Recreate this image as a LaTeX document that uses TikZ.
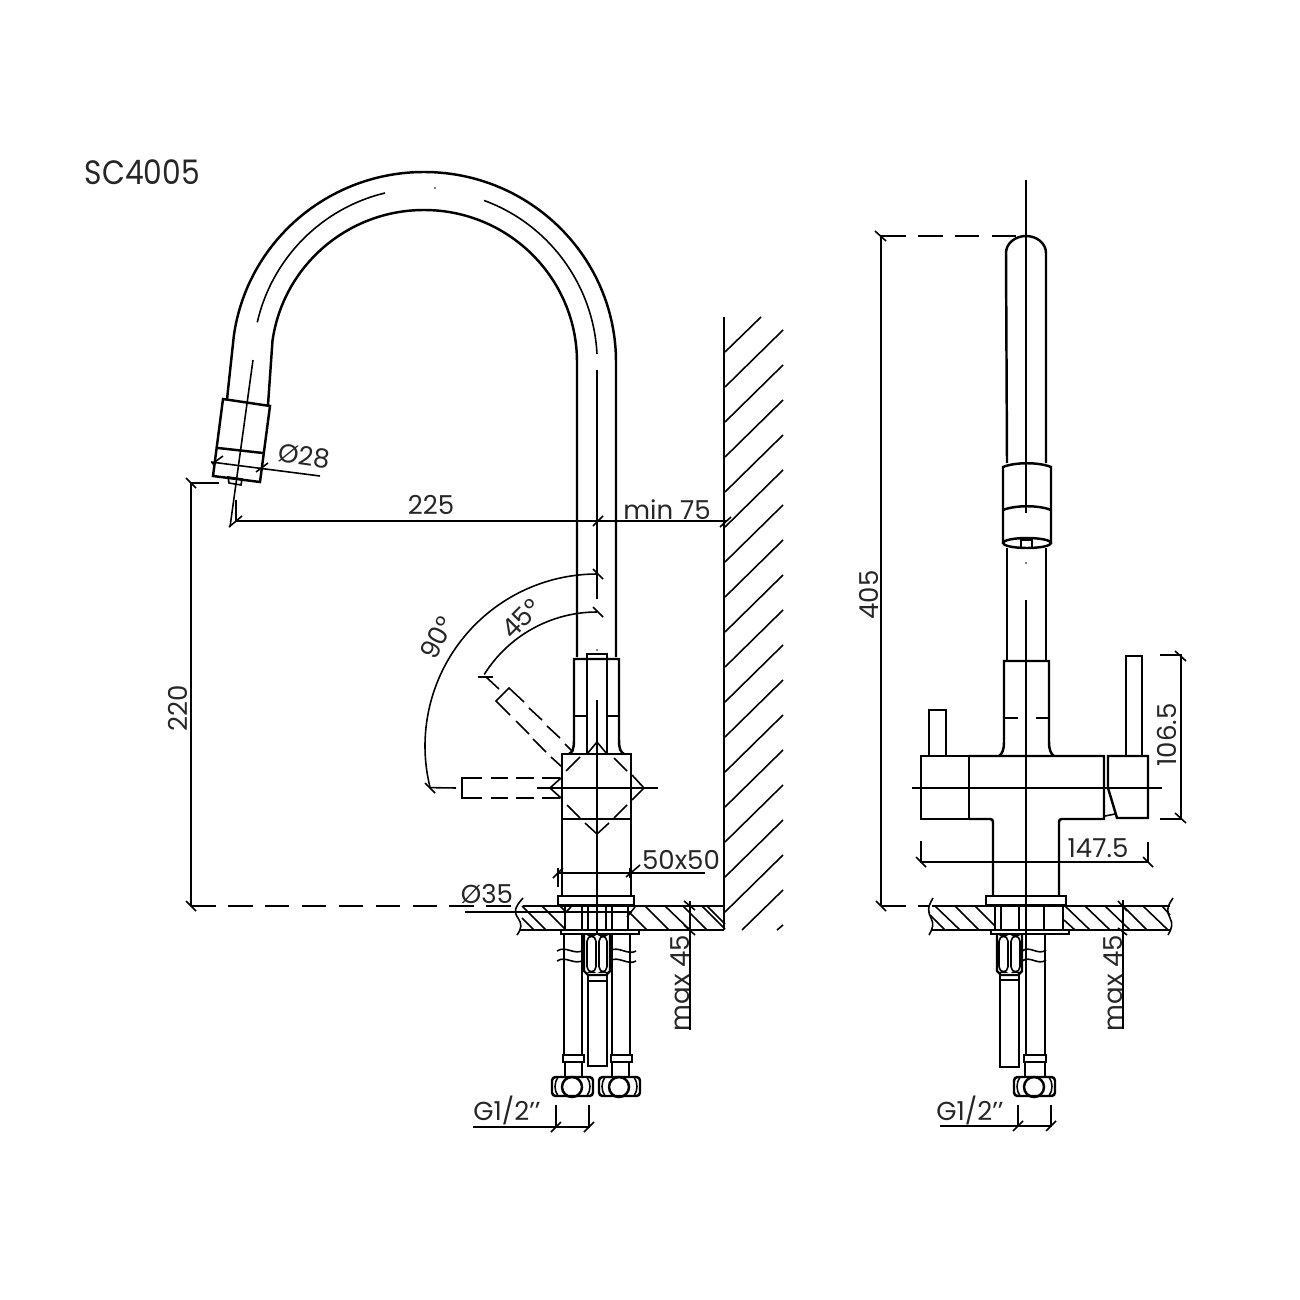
\documentclass[tikz,border=0pt]{standalone}
\usepackage{fontspec}
\setmainfont{Poppins}
\newfontfamily\titlefont[FakeStretch=0.88]{Poppins}
\tikzset{
  outline/.style={line width=0.7pt},
  thinline/.style={line width=0.45pt},
  dashline/.style={line width=0.55pt,dash pattern=on 7pt off 3.5pt},
  dimtext/.style={inner sep=0pt,font=\fontsize{7.4}{9}\selectfont,text=black!85},
}
\begin{document}
\begin{tikzpicture}[x=0.01cm,y=-0.01cm]
    \useasboundingbox (0,0) rectangle (1300,1300);

    \node[dimtext,anchor=west,font=\titlefont\fontsize{9.6}{11}\selectfont] (title) at (84,172) {SC4005};
    \node[dimtext,rotate=-8] (d28) at (304,456) {Ø28};
    \node[dimtext] (w225) at (431,505) {225};
    \node[dimtext] (min75) at (667,510) {min 75};
    \node[dimtext,rotate=90] (h220) at (178,708) {220};
    \node[dimtext,rotate=62] (a90) at (437,638) {90°};
    \node[dimtext,rotate=45] (a45) at (521,619) {45°};
    \node[dimtext] (s50) at (681,860) {50x50};
    \node[dimtext] (d35) at (487,894) {Ø35};
    \node[dimtext,rotate=90] (maxl) at (680,983) {max 45};
    \node[dimtext] (gl) at (507,1110) {G1/2'{}'};
    \node[dimtext,rotate=90] (h405) at (869,595) {405};
    \node[dimtext,rotate=90] (h106) at (1167,735) {106.5};
    \node[dimtext] (w147) at (1098,848) {147.5};
    \node[dimtext,rotate=90] (maxr) at (1113,983) {max 45};
    \node[dimtext] (gr) at (970,1110) {G1/2'{}'};

    % spout, left view
    \draw[outline] (616,657) -- (616,362) arc[start angle=0,end angle=-172,x radius=192,y radius=190] -- (228,390) -- (227,400);
    \draw[outline] (577,657) -- (577,362) arc[start angle=0,end angle=-172,x radius=153,y radius=152] -- (268,405);
    \draw[thinline] (597,599) -- (597,370);
    \draw[thinline] (597,354) arc[start angle=-3,end angle=-70,x radius=172,y radius=173];
    \draw[thinline] (385,193) arc[start angle=-103.4,end angle=-167,x radius=172,y radius=173];
    \draw[thinline] (253,360) -- (230,527);
    \fill (435,188) circle[radius=0.8];
    \fill (597,650) circle[radius=0.8];

    % nozzle
    \draw[outline] (223,399) -- (270,406) -- (260,482) -- (213,476) -- cycle;
    \draw[outline] (218,448) -- (263,453);
    \draw[thinline] (228,477) -- (242,479) -- (241,485) -- (229,483) -- cycle;

    % wall
    \draw[outline] (724,317) -- (724,930);
    \draw[thinline] (725,352) -- (761,317);
    \draw[thinline] (725,387) -- (783,330);
    \draw[thinline] (725,422) -- (783,365);
    \draw[thinline] (725,457) -- (783,400);
    \draw[thinline] (725,492) -- (783,435);
    \draw[thinline] (725,527) -- (783,470);
    \draw[thinline] (725,562) -- (783,505);
    \draw[thinline] (725,597) -- (783,540);
    \draw[thinline] (725,632) -- (783,575);
    \draw[thinline] (725,667) -- (783,610);
    \draw[thinline] (725,702) -- (783,645);
    \draw[thinline] (725,737) -- (783,680);
    \draw[thinline] (725,772) -- (783,715);
    \draw[thinline] (725,807) -- (783,750);
    \draw[thinline] (725,842) -- (783,785);
    \draw[thinline] (725,877) -- (783,820);
    \draw[thinline] (725,912) -- (783,855);
    \draw[thinline] (742,930) -- (783,890);
    \draw[thinline] (777,930) -- (783,925);

    % collar and handle, left view
    \draw[outline] (569,754) .. controls (572,752) and (574,750) .. (574,740) -- (574,659) -- (619,659) -- (619,740) .. controls (619,750) and (621,752) .. (624,754);
    \draw[outline] (574,716) -- (586,716);
    \draw[outline] (608,716) -- (619,716);
    \draw[outline] (587,754) -- (587,654) -- (607,654) -- (607,754);
    \draw[outline] (562,896) -- (562,754) -- (631,754) -- (631,896);
    \draw[outline] (562,819) -- (631,819);
    \draw[thinline] (597,700) -- (597,934);
    \draw[thinline] (537,788) -- (658,788);

    % turned positions of the lever
    \draw[thinline] (587,754) -- (597,742) -- (607,754);
    \draw[thinline] (614,758) -- (627,771);
    \draw[thinline] (632,775) -- (644,788) -- (632,800);
    \draw[thinline] (627,805) -- (614,818);
    \draw[thinline] (609,823) -- (597,834) -- (585,823);
    \draw[thinline] (580,818) -- (567,805);
    \draw[thinline] (561,778) -- (550,788) -- (561,798);
    \draw[thinline] (524,702) -- (509,688) -- (496,701) -- (510,715);
    \draw[thinline] (529,708) -- (542,720);
    \draw[thinline] (547,726) -- (560,738);
    \draw[thinline] (565,744) -- (573,752);
    \draw[thinline] (516,721) -- (529,734);
    \draw[thinline] (533,739) -- (546,752);
    \draw[thinline] (551,757) -- (562,767);
    \draw[thinline] (580,757) -- (566,771);
    \draw[thinline] (482,778) -- (462,778) -- (462,798) -- (482,798);
    \draw[thinline] (491,778) -- (508,778);
    \draw[thinline] (516,778) -- (534,778);
    \draw[thinline] (542,778) -- (560,778);
    \draw[thinline] (491,798) -- (508,798);
    \draw[thinline] (516,798) -- (534,798);
    \draw[thinline] (542,798) -- (560,798);

    % counter, left view
    \draw[outline] (558,896) rectangle (634,905);
    \draw[outline] (523,906) -- (724,906);
    \draw[outline] (520,930) -- (565,930);
    \draw[outline] (628,930) -- (724,930);
    \draw[outline] (561,930) rectangle (639,934);
    \draw[outline] (565,906) -- (565,930);
    \draw[outline] (628,906) -- (628,930);
    \draw[thinline] (523,898) .. controls (514,908) and (514,912) .. (518,918) .. controls (522,924) and (522,928) .. (517,935);
    \draw[thinline] (522,906) -- (546,930);
    \draw[thinline] (542,906) -- (566,930);
    \draw[thinline] (522,918) -- (534,930);
    \draw[thinline] (560,906) -- (565,911);
    \draw[thinline] (630,913) -- (647,930);
    \draw[thinline] (645,906) -- (669,930);
    \draw[thinline] (665,906) -- (690,930);
    \draw[thinline] (683,906) -- (707,930);
    \draw[thinline] (702,906) -- (725,929);
    \draw[thinline] (707,906) -- (725,924);
    \draw[thinline] (582,906) -- (582,930);
    \draw[thinline] (588,906) -- (588,930);
    \draw[thinline] (606,906) -- (606,930);
    \draw[thinline] (612,906) -- (612,930);

    % hoses and fittings, left view
    \draw[outline] (564,934) -- (564,1055);
    \draw[outline] (582,934) -- (582,1055);
    \draw[outline] (612,934) -- (612,1055);
    \draw[outline] (630,934) -- (630,1055);
    \draw[thinline] (557,951) .. controls (566,945) and (574,956) .. (584,950);
    \draw[thinline] (557,961) .. controls (566,955) and (574,966) .. (584,960);
    \draw[thinline] (610,951) .. controls (618,945) and (628,956) .. (636,951);
    \draw[thinline] (610,961) .. controls (618,955) and (628,966) .. (636,961);
    \draw[outline] (584,934) -- (584,971) -- (588,975) -- (606,975) -- (610,971) -- (610,934);
    \draw[thinline,rounded corners=1.5pt] (587,936) rectangle (596,972);
    \draw[thinline,rounded corners=1.5pt] (599,936) rectangle (607,972);
    \draw[outline] (588,975) -- (588,1066) -- (607,1066) -- (607,975);
    \draw[thinline] (588,981) -- (607,981);
    \draw[outline] (563,1055) rectangle (584,1062);
    \draw[outline] (611,1055) rectangle (632,1062);
    \draw[outline] (565,1062) -- (565,1077);
    \draw[outline] (582,1062) -- (582,1077);
    \draw[outline] (612,1062) -- (612,1077);
    \draw[outline] (629,1062) -- (629,1077);
    \draw[outline,rounded corners=1pt] (552,1077) rectangle (593,1096);
    \draw[outline,rounded corners=1pt] (599,1077) rectangle (640,1096);
    \draw[outline] (572,1087) circle[radius=10];
    \draw[outline] (619,1087) circle[radius=10];
    \draw[thinline] (558,1077) .. controls (554,1083) and (554,1090) .. (558,1096);
    \draw[thinline] (587,1077) .. controls (591,1083) and (591,1090) .. (587,1096);
    \draw[thinline] (605,1077) .. controls (601,1083) and (601,1090) .. (605,1096);
    \draw[thinline] (634,1077) .. controls (638,1083) and (638,1090) .. (634,1096);

    % dimensions, left view
    \draw[thinline] (211,462) -- (320,476);
    \draw[thinline] (212,464) -- (223,456);
    \draw[thinline] (256,472) -- (268,463);
    \draw[thinline] (236,521) -- (727,521);
    \draw[thinline] (236,500) -- (236,521);
    \draw[thinline] (229,527) -- (242,516);
    \draw[thinline] (593,526) -- (603,516);
    \draw[thinline] (720,527) -- (731,517);
    \draw[thinline] (219,483) -- (191,483) -- (191,906);
    \draw[thinline] (186,478) -- (196,488);
    \draw[thinline] (186,901) -- (196,911);
    \draw[dashline] (191,906) -- (520,906);
    \draw[thinline] (597,574) arc[start angle=-90,end angle=-194,radius=172] -- (456,788);
    \draw[thinline] (425,783) -- (435,793);
    \draw[thinline] (593,569) -- (603,579);
    \draw[thinline] (597,612) arc[start angle=-90,end angle=-148,radius=133];
    \draw[thinline] (478,677) -- (493,677);
    \draw[thinline] (486,677) -- (499,689);
    \draw[thinline] (593,607) -- (603,617);
    \draw[thinline] (558,868) -- (558,887);
    \draw[thinline] (630,868) -- (630,878);
    \draw[thinline] (558,873) -- (705,873);
    \draw[thinline] (553,878) -- (563,868);
    \draw[thinline] (626,877) -- (640,865);
    \draw[thinline] (465,912) -- (632,912);
    \draw[thinline] (565,913) -- (571,907);
    \draw[thinline] (627,917) -- (635,907);
    \draw[thinline] (690,901) -- (690,1030);
    \draw[thinline] (684,901) -- (695,910);
    \draw[thinline] (684,925) -- (695,935);
    \draw[thinline] (473,1127) -- (590,1127);
    \draw[thinline] (556,1105) -- (556,1127);
    \draw[thinline] (589,1105) -- (589,1127);
    \draw[thinline] (551,1132) -- (561,1122);
    \draw[thinline] (584,1132) -- (594,1122);

    % spout and nozzle, right view
    \draw[outline] (1007,463) -- (1006,253) arc[start angle=-180,end angle=0,x radius=20,y radius=17] -- (1046,463);
    \draw[thinline] (1026,180) -- (1026,513);
    \fill (1026,563) circle[radius=0.8];
    \draw[thinline] (1026,600) -- (1026,952);
    \draw[outline] (1003,542) -- (1003,467) .. controls (1015,462) and (1039,462) .. (1051,467) -- (1051,542);
    \draw[outline] (1003,510) .. controls (1015,505) and (1039,505) .. (1051,510);
    \draw[outline] (1027,543) ellipse[x radius=24,y radius=5];
    \draw[outline] (1021,540) rectangle (1032,548);
    \draw[outline] (1007,548) -- (1007,661);
    \draw[outline] (1046,548) -- (1046,661);

    % body, right view
    \draw[outline] (999,756) .. controls (1002,754) and (1004,750) .. (1004,742) -- (1004,661) -- (1049,661) -- (1049,742) .. controls (1049,750) and (1051,754) .. (1054,756);
    \draw[outline] (1004,718) -- (1018,718);
    \draw[outline] (1036,718) -- (1049,718);
    \draw[outline] (921,756) rectangle (969,819);
    \draw[outline] (969,756) -- (1104,756) -- (1104,819) -- (1062,819) .. controls (1060,819) and (1059,820) .. (1059,822) -- (1059,896);
    \draw[outline] (969,819) -- (990,819) .. controls (992,819) and (993,820) .. (993,822) -- (993,896);
    \draw[outline] (1108,788) -- (1108,756) -- (1148,756) -- (1148,818) -- (1117,818) -- (1108,788);
    \draw[thinline] (1105,816) -- (1115,814);
    \draw[outline] (929,756) -- (929,710) -- (946,710) -- (946,756);
    \draw[outline] (1126,756) -- (1126,656) -- (1142,656) -- (1142,756);
    \draw[thinline] (912,788) -- (1162,788);

    % counter, right view
    \draw[outline] (986,896) rectangle (1066,905);
    \draw[outline] (932,906) -- (1170,906);
    \draw[outline] (932,930) -- (996,930);
    \draw[outline] (1063,930) -- (1170,930);
    \draw[outline] (991,930) rectangle (1069,934);
    \draw[outline] (995,906) -- (995,930);
    \draw[outline] (1063,906) -- (1063,930);
    \draw[thinline] (933,898) .. controls (927,908) and (928,912) .. (931,918) .. controls (934,924) and (933,928) .. (929,935);
    \draw[thinline] (1173,898) .. controls (1166,908) and (1167,912) .. (1170,918) .. controls (1173,924) and (1172,928) .. (1168,935);
    \draw[thinline] (935,906) -- (960,930);
    \draw[thinline] (955,906) -- (979,930);
    \draw[thinline] (975,906) -- (995,926);
    \draw[thinline] (930,915) -- (945,930);
    \draw[thinline] (1065,906) -- (1090,930);
    \draw[thinline] (1085,906) -- (1110,930);
    \draw[thinline] (1105,906) -- (1130,930);
    \draw[thinline] (1123,906) -- (1147,930);
    \draw[thinline] (1143,906) -- (1168,930);
    \draw[thinline] (1162,906) -- (1170,915);
    \draw[thinline] (1064,920) -- (1075,930);
    \draw[thinline] (1001,906) -- (1001,930);
    \draw[thinline] (1019,906) -- (1019,930);
    \draw[thinline] (1044,906) -- (1044,930);

    % hose and fittings, right view
    \draw[outline] (997,934) -- (997,971) -- (1001,975) -- (1018,975) -- (1022,971) -- (1022,934);
    \draw[thinline,rounded corners=1.5pt] (999,936) rectangle (1008,972);
    \draw[thinline,rounded corners=1.5pt] (1011,936) rectangle (1020,972);
    \draw[outline] (1000,975) -- (1000,1067) -- (1019,1067) -- (1019,975);
    \draw[thinline] (1000,980) -- (1019,980);
    \draw[outline] (1045,934) -- (1045,1055);
    \draw[outline] (1026,952) -- (1026,1055);
    \draw[thinline] (1022,951) .. controls (1030,945) and (1038,956) .. (1046,950);
    \draw[thinline] (1022,961) .. controls (1030,955) and (1038,966) .. (1046,960);
    \draw[outline] (1024,1055) rectangle (1046,1062);
    \draw[outline] (1025,1062) -- (1025,1077);
    \draw[outline] (1045,1062) -- (1045,1077);
    \draw[outline,rounded corners=1pt] (1014,1077) rectangle (1055,1096);
    \draw[outline] (1034,1087) circle[radius=10];
    \draw[thinline] (1020,1077) .. controls (1016,1083) and (1016,1090) .. (1020,1096);
    \draw[thinline] (1049,1077) .. controls (1053,1083) and (1053,1090) .. (1049,1096);

    % dimensions, right view
    \draw[thinline] (881,236) -- (881,906);
    \draw[thinline] (875,231) -- (886,241);
    \draw[thinline] (876,901) -- (886,911);
    \draw[dashline] (881,236) -- (1026,236);
    \draw[dashline] (881,906) -- (930,906);
    \draw[thinline] (1160,655) -- (1181,655) -- (1181,819) -- (1160,819);
    \draw[thinline] (1175,651) -- (1186,661);
    \draw[thinline] (1175,813) -- (1186,823);
    \draw[thinline] (921,841) -- (921,862) -- (1148,862) -- (1148,842);
    \draw[thinline] (916,857) -- (926,867);
    \draw[thinline] (1143,857) -- (1153,867);
    \draw[thinline] (1123,900) -- (1123,1029);
    \draw[thinline] (1118,901) -- (1127,911);
    \draw[thinline] (1118,928) -- (1127,935);
    \draw[thinline] (940,1126) -- (1052,1126);
    \draw[thinline] (1018,1105) -- (1018,1126);
    \draw[thinline] (1051,1105) -- (1051,1126);
    \draw[thinline] (1013,1131) -- (1023,1121);
    \draw[thinline] (1046,1131) -- (1056,1121);
\end{tikzpicture}
\end{document}
